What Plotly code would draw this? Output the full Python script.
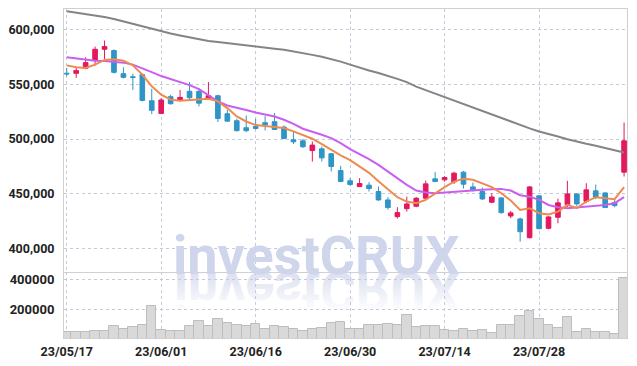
import base64
import plotly.graph_objects as go

dates = ["23/05/17", "23/05/18", "23/05/19", "23/05/22", "23/05/23", "23/05/24", "23/05/25", "23/05/26",
         "23/05/30", "23/05/31", "23/06/01", "23/06/02", "23/06/05", "23/06/07", "23/06/08", "23/06/09",
         "23/06/12", "23/06/13", "23/06/14", "23/06/15", "23/06/16", "23/06/19", "23/06/20", "23/06/21",
         "23/06/22", "23/06/23", "23/06/26", "23/06/27", "23/06/28", "23/06/29", "23/06/30", "23/07/03",
         "23/07/04", "23/07/05", "23/07/06", "23/07/07", "23/07/10", "23/07/11", "23/07/12", "23/07/13",
         "23/07/14", "23/07/17", "23/07/18", "23/07/19", "23/07/20", "23/07/21", "23/07/24", "23/07/25",
         "23/07/26", "23/07/27", "23/07/28", "23/07/31", "23/08/01", "23/08/02", "23/08/03", "23/08/04",
         "23/08/07", "23/08/08", "23/08/09", "23/08/10"]

open_ = [560300, 560200, 564800, 572100, 582200, 581000, 559900, 557000, 559000, 535100,
         523500, 538800, 535800, 543700, 543700, 537000, 539700, 523200, 516800, 510400,
         511600, 515000, 515900, 511000, 499400, 498400, 489500, 491100, 486600, 471200,
         461800, 456500, 457800, 452000, 444300, 429000, 436300, 438500, 445900, 463600,
         462700, 460800, 469700, 456200, 452000, 442200, 446100, 429600, 426900, 409700,
         448000, 418300, 428400, 440000, 449800, 443100, 452600, 450700, 441900, 469700]
high = [565100, 565100, 574900, 584700, 590200, 582200, 565700, 559900, 559900, 545900,
        537600, 540600, 545000, 552300, 546800, 552300, 540600, 526900, 518600, 521600,
        518600, 521100, 523900, 512500, 506400, 500200, 497800, 493200, 487200, 475500,
        464200, 464200, 460600, 456500, 446800, 437600, 447300, 446800, 462000, 469700,
        466000, 470000, 470900, 460200, 455600, 450400, 446800, 434200, 428100, 457000,
        448600, 429500, 445500, 461800, 450400, 459600, 458400, 451300, 444300, 515200]
low = [557400, 556000, 563900, 567300, 573400, 560000, 555600, 545000, 534500, 522900,
       522900, 531500, 534500, 536100, 529900, 536100, 515600, 515900, 507000, 506400,
       508800, 507900, 508300, 500000, 495400, 491800, 479400, 479500, 470300, 460800,
       457400, 456000, 452000, 443400, 435400, 427200, 433600, 437600, 445200, 460800,
       461000, 459000, 454700, 452000, 444300, 441300, 431500, 427500, 406100, 409000,
       417400, 417400, 422900, 437600, 438800, 441300, 445000, 437000, 437600, 465700]
close = [559700, 562700, 570000, 582200, 584700, 561100, 556500, 556500, 535400, 526300,
         535800, 532400, 538200, 537900, 532900, 539700, 518900, 516400, 507700, 507700,
         509700, 513100, 508800, 500600, 497500, 493000, 494500, 482800, 474900, 461200,
         458400, 459300, 454700, 444300, 437300, 432700, 440600, 445900, 459000, 461100,
         464800, 468800, 458700, 453500, 445200, 447000, 432700, 432400, 415200, 456200,
         418000, 428700, 441600, 449800, 440600, 453500, 446800, 437300, 439100, 498400]

ma5 = [567500, 565700, 565100, 568200, 572500, 573000, 571800, 567500, 559000, 548300,
       540600, 536100, 535100, 535800, 536900, 537000, 534500, 528400, 520700, 516100,
       512800, 511900, 510600, 510100, 507000, 503900, 500300, 495400, 490200, 485000,
       480700, 475200, 469100, 461400, 453800, 446800, 442800, 441300, 444300, 450400,
       456000, 461100, 463600, 462700, 459500, 456000, 450400, 443700, 435100, 436700,
       432100, 430900, 433600, 439800, 436700, 442800, 446800, 445900, 445000, 456000]
ma10 = [574900, 573700, 572800, 571800, 571400, 570900, 570000, 568200, 565000, 561300,
        557700, 554900, 552100, 549400, 545700, 540000, 534500, 530800, 528400, 526600,
        524400, 522900, 520700, 517700, 514000, 509500, 507000, 503900, 500900, 496300,
        490800, 486500, 481700, 476400, 470300, 464200, 458100, 452900, 451000, 450500,
        451000, 451400, 451900, 452900, 453500, 454100, 454400, 452900, 448600, 447300,
        444300, 439700, 437600, 436700, 437300, 438200, 438800, 439700, 441300, 446800]
ma_long = [617100, 615900, 614500, 613100, 611700, 609900, 607600, 605300, 603000, 600700,
           598400, 596600, 594800, 593100, 591300, 589900, 588800, 587900, 587000, 586100,
           585000, 583900, 582800, 581700, 580300, 578800, 577100, 575300, 573200, 570900,
           568200, 565200, 562800, 560500, 558100, 555100, 552100, 548000, 544800, 541600,
           538400, 535100, 531600, 528300, 525300, 522300, 519100, 515900, 512900, 509800,
           507000, 504900, 502300, 499800, 497500, 495700, 493900, 491600, 489300, 487700]

volume = [48700, 48700, 48700, 57300, 57300, 88700, 68700, 80000, 95300, 222000,
          62000, 55300, 55300, 88700, 122000, 88700, 133300, 108700, 93300, 88700,
          102000, 68700, 88700, 82000, 68700, 55300, 68700, 73300, 106700, 115300,
          66700, 66700, 93300, 93300, 100000, 93300, 160000, 80000, 90700, 86700,
          62000, 55300, 66700, 55300, 60000, 40000, 93300, 93300, 153300, 186700,
          133300, 93300, 75300, 146700, 48700, 66700, 48700, 48700, 38000, 406700]

tick_dates = ["23/05/17", "23/06/01", "23/06/16", "23/06/30", "23/07/14", "23/07/28"]
price_ticks = [400000, 450000, 500000, 550000, 600000]
volume_ticks = [200000, 400000]

UP = "#e3185f"
DOWN = "#2f95c6"
GRID = "#c4c9dd"
BORDER = "#d0d0d0"
WM = "#cfd5ea"
FONT = dict(family="Roboto", size=12.5, color="#222222", weight="bold")

fig = go.Figure()
fig.add_trace(go.Candlestick(
    x=dates, open=open_, high=high, low=low, close=close,
    increasing=dict(line=dict(color=UP, width=1), fillcolor=UP),
    decreasing=dict(line=dict(color=DOWN, width=1), fillcolor=DOWN),
    whiskerwidth=0, xaxis="x", yaxis="y", showlegend=False, hoverinfo="skip"))
fig.add_trace(go.Scatter(x=dates, y=ma_long, mode="lines", line=dict(color="#848484", width=2),
                         xaxis="x", yaxis="y", showlegend=False, hoverinfo="skip"))
fig.add_trace(go.Scatter(x=dates, y=ma10, mode="lines", line=dict(color="#c95ef0", width=2),
                         xaxis="x", yaxis="y", showlegend=False, hoverinfo="skip"))
fig.add_trace(go.Scatter(x=dates, y=ma5, mode="lines", line=dict(color="#ee8a50", width=2),
                         xaxis="x", yaxis="y", showlegend=False, hoverinfo="skip"))
fig.add_trace(go.Bar(x=dates, y=volume, marker=dict(color="#d9d9d9", line=dict(color="#bdbdbd", width=1)),
                     xaxis="x2", yaxis="y2", showlegend=False, hoverinfo="skip"))

# The page body has an 8px margin; the figure is sized so the plot lands where the reference has it.
FIG_W, FIG_H = 621, 350
M_L, M_R, M_T, M_B = 56, 1.5, 1, 20
plot_w = FIG_W - M_L - M_R
plot_h = FIG_H - M_T - M_B
split = 66 / plot_h

common_x = dict(type="category", range=[-0.29, 59.31], showgrid=True, gridcolor=GRID, griddash="dot",
                gridwidth=1, tickvals=tick_dates, ticktext=tick_dates, showline=True,
                linecolor=BORDER, linewidth=1, zeroline=False, ticks="", tickfont=FONT, automargin=False)

fig.update_layout(
    width=FIG_W, height=FIG_H, paper_bgcolor="white", plot_bgcolor="white",
    margin=dict(l=M_L, r=M_R, t=M_T, b=M_B, autoexpand=False),
    boxgap=0.3, bargap=0,
    xaxis=dict(common_x, anchor="y", mirror=True, showticklabels=False, rangeslider=dict(visible=False)),
    xaxis2=dict(common_x, anchor="y2", matches="x", mirror=False, showticklabels=True, ticklabelstandoff=2),
    yaxis=dict(domain=[split, 1], range=[378300, 619100], tickvals=price_ticks, tickformat=",d",
               showgrid=True, gridcolor=GRID, griddash="dot", gridwidth=1, zeroline=False,
               showline=True, mirror=True, linecolor=BORDER, linewidth=1, ticks="", tickfont=FONT,
               ticklabelstandoff=6, automargin=False),
    yaxis2=dict(domain=[0, split], range=[8700, 448700], tickvals=volume_ticks, tickformat="d",
                showgrid=True, gridcolor=GRID, griddash="dot", gridwidth=1, zeroline=False,
                showline=True, mirror=True, linecolor=BORDER, linewidth=1, ticks="",
                tickfont=dict(FONT, size=13), ticklabelstandoff=6, automargin=False),
)

# watermark
fig.add_annotation(text="<b>investCRUX</b>", xref="paper", yref="paper", x=0.449, y=split,
                   xanchor="center", yanchor="bottom", yshift=-17, showarrow=False,
                   font=dict(family="Roboto", size=54, color=WM))

W, H = 340, 50
svg = f'''<svg xmlns="http://www.w3.org/2000/svg" width="{W}" height="{H}" viewBox="0 0 {W} {H}">
<defs><linearGradient id="g" gradientUnits="userSpaceOnUse" x1="0" y1="0" x2="0" y2="-40">
<stop offset="0" stop-color="{WM}" stop-opacity="0.75"/><stop offset="1" stop-color="{WM}" stop-opacity="0"/>
</linearGradient></defs>
<text x="{W/2}" y="0" transform="scale(1,-1)" text-anchor="middle" font-family="Roboto" font-weight="bold"
 font-size="54" fill="url(#g)">investCRUX</text></svg>'''
src = "data:image/svg+xml;base64," + base64.b64encode(svg.encode()).decode()
fig.add_layout_image(source=src, xref="paper", yref="paper", x=0.449, y=split, xanchor="center",
                     yanchor="top", sizex=W / plot_w, sizey=H / plot_h, sizing="stretch", layer="below")

fig.write_html("out.html")
